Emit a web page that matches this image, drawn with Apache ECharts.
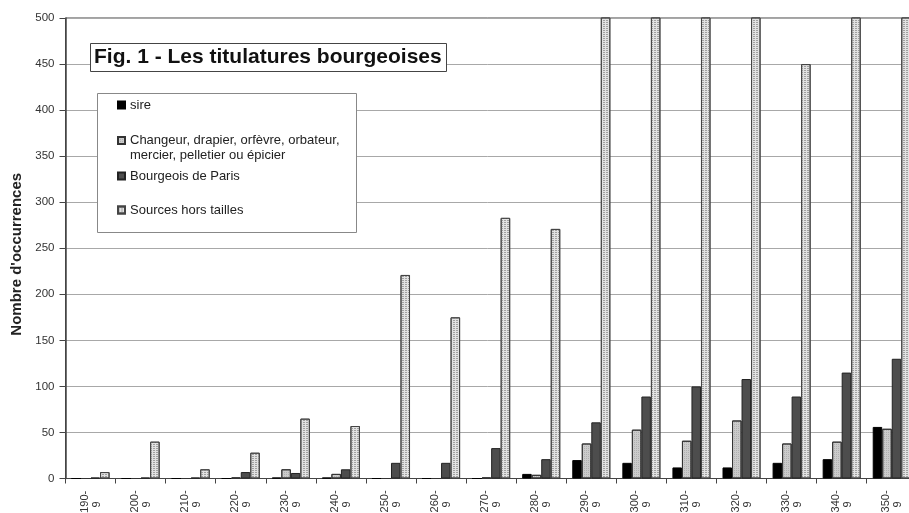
<!DOCTYPE html>
<html>
<head>
<meta charset="utf-8">
<script src="https://cdn.jsdelivr.net/npm/echarts@6/dist/echarts.min.js"></script>
<style>
  html, body { margin: 0; padding: 0; background: #fff; }
  #chart { width: 909px; height: 513px; }
</style>
</head>
<body>
<div id="chart"></div>
<script>
// ---- Data ----
const categories = ['1190-9','1200-9','1210-9','1220-9','1230-9','1240-9','1250-9','1260-9','1270-9',
                    '1280-9','1290-9','1300-9','1310-9','1320-9','1330-9','1340-9','1350-9'];
const seriesNames = ['sire',
  'Changeur, drapier, orfèvre, orbateur, mercier, pelletier ou épicier',
  'Bourgeois de Paris',
  'Sources hors tailles'];
const sire      = [0, 0, 0, 0, 1, 1, 0, 0, 0, 5, 20, 17, 12, 12, 17, 21, 56];
const changeur  = [0, 0, 0, 1, 10, 5, 0, 0, 1, 4, 38, 53, 41, 63, 38, 40, 54];
const bourgeois = [1, 1, 1, 7, 6, 10, 17, 17, 33, 21, 61, 89, 100, 108, 89, 115, 130];
// values above 500 run off the top of the chart in the reference (clipped)
const sources   = [7, 40, 10, 28, 65, 57, 221, 175, 283, 271, 520, 520, 520, 520, 450, 520, 520];
const yTicks = { min: 0, max: 500, interval: 50 };

const FONT = '"Liberation Sans", Arial, Helvetica, sans-serif';
const chart = echarts.init(document.getElementById('chart'), null, { renderer: 'canvas' });

function barSeries(name, data, style) {
  return {
    name: name, type: 'bar', data: data,
    barGap: '0%', barCategoryGap: '24%',
    clip: true,
    itemStyle: style,
    emphasis: { disabled: true },
    animation: false
  };
}

const legendCommon = {
  orient: 'vertical', itemWidth: 7, itemHeight: 7, itemGap: 0, padding: 0,
  icon: 'rect', selectedMode: false,
  textStyle: { fontFamily: FONT, fontSize: 13, lineHeight: 15, color: '#222' }
};

const option = {
  backgroundColor: '#fff',
  animation: false,
  title: {
    text: 'Fig. 1 - Les titulatures bourgeoises',
    left: 90, top: 43,
    padding: [4, 5, 4, 4],
    backgroundColor: '#fff',
    borderColor: '#444', borderWidth: 1,
    textStyle: { fontFamily: FONT, fontSize: 21, fontWeight: 'bold', color: '#111', lineHeight: 21 }
  },
  graphic: [{
    type: 'rect', z: 3,
    shape: { x: 97.5, y: 93.5, width: 259, height: 139 },
    style: { fill: '#fff', stroke: '#888', lineWidth: 1 }
  }],
  legend: [
    Object.assign({}, legendCommon, { data: [seriesNames[0]], left: 117, top: 97.5 }),
    Object.assign({}, legendCommon, {
      data: [seriesNames[1]], left: 117, top: 118,
      formatter: function (n) { return ' \n' + n.replace(', mercier', ',\nmercier'); }
    }),
    Object.assign({}, legendCommon, { data: [seriesNames[2]], left: 117, top: 168.5 }),
    Object.assign({}, legendCommon, { data: [seriesNames[3]], left: 117, top: 202.5 })
  ],
  grid: {
    left: 65.5, top: 18, width: 851.3, bottom: 34.5,
    outerBoundsMode: 'none', containLabel: false,
    show: true, borderColor: '#444', borderWidth: 1, backgroundColor: 'transparent'
  },
  xAxis: {
    type: 'category', data: categories,
    axisLine: { lineStyle: { color: '#444', width: 1 } },
    axisTick: { show: true, interval: 0, length: 5, lineStyle: { color: '#444' } },
    axisLabel: {
      interval: 0, rotate: 90, align: 'center', verticalAlign: 'middle', margin: 26,
      fontFamily: FONT, fontSize: 11, lineHeight: 12, color: '#333',
      formatter: function (v) { return v.replace('-', '-\n'); }
    },
    splitLine: { show: false }
  },
  yAxis: {
    type: 'value', min: yTicks.min, max: yTicks.max, interval: yTicks.interval,
    name: "Nombre d'occurrences", nameLocation: 'middle', nameGap: 40,
    nameTextStyle: { fontFamily: FONT, fontSize: 15, fontWeight: 'bold', color: '#222', padding: [0, 12, 0, 0] },
    axisLine: { show: true, lineStyle: { color: '#444', width: 1.5 } },
    axisTick: { show: true, length: 6, lineStyle: { color: '#444' } },
    axisLabel: { fontFamily: FONT, fontSize: 11.5, color: '#333', margin: 11 },
    splitLine: { show: true, lineStyle: { color: '#a8a8a8', width: 1 } }
  },
  series: [
    barSeries(seriesNames[0], sire, { color: '#000', borderColor: '#000', borderWidth: 1 }),
    barSeries(seriesNames[1], changeur, {
      color: '#cbcbcb', borderColor: '#333', borderWidth: 1,
      decal: { symbol: 'rect', symbolSize: 1, dashArrayX: [1, 1], dashArrayY: [1, 1], color: 'rgba(150,150,150,0.5)', rotation: 0 }
    }),
    barSeries(seriesNames[2], bourgeois, { color: '#4d4d4d', borderColor: '#222', borderWidth: 1 }),
    barSeries(seriesNames[3], sources, {
      color: '#e2e2e2', borderColor: '#444', borderWidth: 1,
      decal: { symbol: 'rect', symbolSize: 1, dashArrayX: [2, 1], dashArrayY: [1, 1], color: '#a0a0a0', rotation: 0 }
    })
  ]
};
chart.setOption(option);
</script>
</body>
</html>
